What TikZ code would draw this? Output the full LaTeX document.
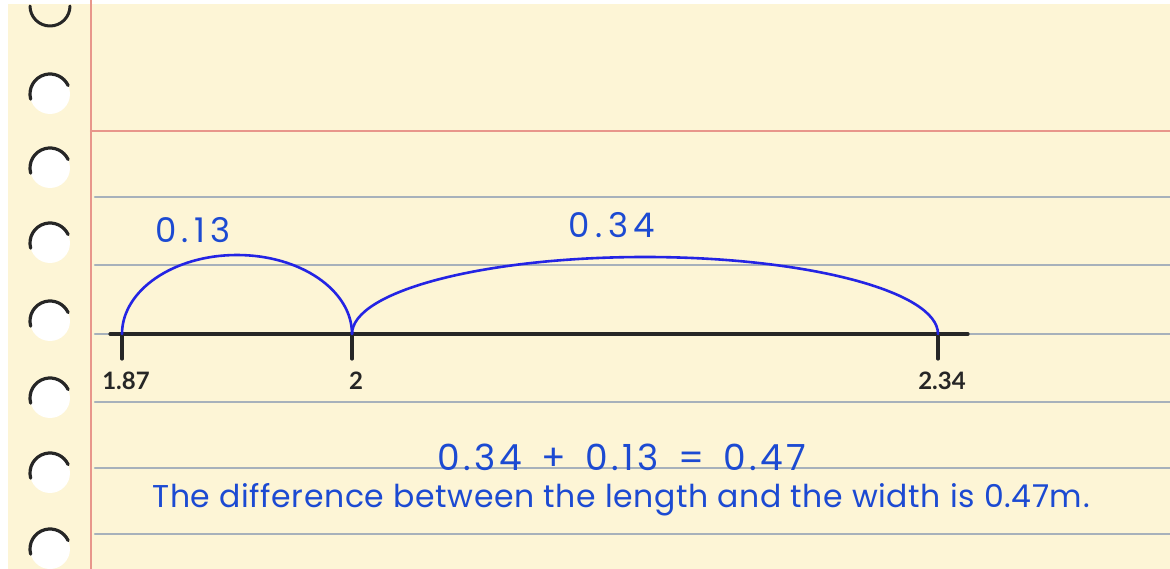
\documentclass[tikz,border=0pt]{standalone}
\usepackage{fontspec}
\setmainfont{Lato}
\newfontfamily\handfont{Poppins}[LetterSpace=10]
\definecolor{paper}{HTML}{FDF5D6}
\definecolor{marginred}{HTML}{E8968B}
\definecolor{rulegray}{HTML}{A7B1BB}
\definecolor{ink}{HTML}{1C4AD2}
\definecolor{arcblue}{HTML}{2424E4}
\begin{document}
\begin{tikzpicture}[x=1pt, y=-1pt, line join=round, line cap=round,
	tick/.style={line width=3.2pt, color=black!85},
	arcline/.style={line width=2.6pt, color=arcblue},
	numlbl/.style={font=\bfseries\fontsize{24}{26}\selectfont, text=black!85, inner sep=0pt},
	hand/.style={font=\handfont\addfontfeatures{LetterSpace=16}\fontsize{34}{36}\selectfont, text=ink, inner sep=0pt}]
	\useasboundingbox (0,0) rectangle (1170,569);
	\fill[white] (0,0) rectangle (1170,569);
	\fill[paper] (8,4) rectangle (1170,569);
	\draw[marginred, line width=2.2pt] (91,0) -- (91,569);
	\draw[marginred, line width=2.4pt] (91,131) -- (1170,131);
	\foreach \y in {197,265,334,402,468,534}
		\draw[rulegray, line width=2.4pt] (95,\y) -- (1170,\y);
	\draw[line width=3pt, black!85] (30,6) arc[start angle=180, end angle=0, radius=20];
	\foreach \y in {94,168,243,321,398,473,549} {
		\fill[white] (50,\y) circle (20);
		\draw[line width=3.2pt, black!85] (50,\y) ++(165:20) arc[start angle=165, end angle=335, radius=20];
	}
	\coordinate (p187) at (122,334);
	\coordinate (p2) at (352,334);
	\coordinate (p234) at (938,334);
	\draw[tick] (110,334) -- (968,334);
	\foreach \p/\t in {p187/1.87, p2/2, p234/2.34} {
		\draw[tick] (\p) -- ++(0,25);
		\node[numlbl, anchor=north] (l\p) at ([xshift=\ifx\t2 0pt\else 4pt\fi, yshift=-38pt]\p) {\t};
	}
	\draw[arcline] (p187) arc[start angle=180, end angle=360, x radius=115, y radius=79];
	\draw[arcline] (p2) arc[start angle=180, end angle=360, x radius=293, y radius=77];
	\node[hand] (d013) at (193,230) {0.13};
	\node[hand] (d034) at (612,225) {0.34};
	\node[hand, font=\handfont\fontsize{36}{38}\selectfont] (eqn) at (622,457) {0.34\, +\, 0.13\, =\, 0.47};
	\node[hand, font=\handfont\addfontfeatures{LetterSpace=2}\fontsize{31.5}{34}\selectfont] (diff) at (621,500) {The difference between the length and the width is 0.47m.};
\end{tikzpicture}
\end{document}
